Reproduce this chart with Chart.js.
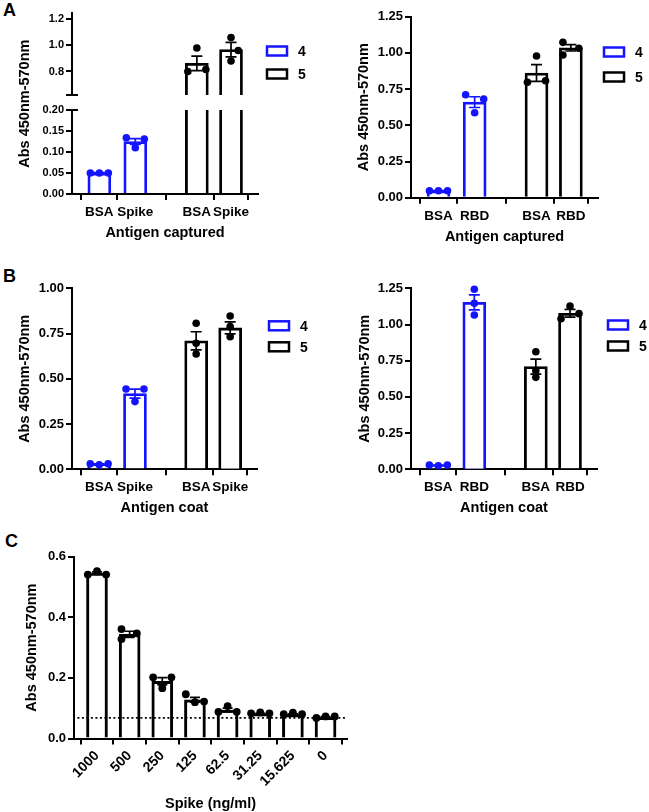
<!DOCTYPE html>
<html>
<head>
<meta charset="utf-8">
<script src="https://cdn.jsdelivr.net/npm/chart.js@4.4.1/dist/chart.umd.min.js"></script>
<style>
  html, body { margin: 0; padding: 0; background: #fff; overflow: hidden; }
  #page { position: relative; width: 649px; height: 812px; overflow: hidden; }
  .panel { position: absolute; }
  .letter { position: absolute; font: bold 18px "Liberation Sans", Arial, sans-serif; line-height: 18px; color: #000; }
</style>
</head>
<body>
<div id="page">
  <div class="letter" style="left:3px;top:1px">A</div>
  <div class="letter" style="left:3px;top:267px">B</div>
  <div class="letter" style="left:5px;top:532px">C</div>
  <div class="panel"><canvas id="capSpikeTop"></canvas></div>
  <div class="panel"><canvas id="capSpikeBottom"></canvas></div>
  <div class="panel"><canvas id="capRbd"></canvas></div>
  <div class="panel"><canvas id="coatSpike"></canvas></div>
  <div class="panel"><canvas id="coatRbd"></canvas></div>
  <div class="panel"><canvas id="titration"></canvas></div>
</div>
<script>
// ---- data ----
const groupNames = ['4', '5'];

// A left: antigen captured, Spike
const capSpikeLabels = ['BSA', 'Spike', 'BSA', 'Spike'];
const capSpikeMean4 = [0.050, 0.125];
const capSpikeSem4 = [0.001, 0.007];
const capSpikeReps4 = [[0.050, 0.050, 0.050], [0.134, 0.110, 0.131]];
const capSpikeMean5 = [0.862, 0.967];
const capSpikeSem5 = [0.055, 0.055];
const capSpikeReps5 = [[0.800, 0.980, 0.815], [1.060, 0.960, 0.880]];

// A right: antigen captured, RBD
const capRbdLabels = ['BSA', 'RBD', 'BSA', 'RBD'];
const capRbdMean4 = [0.048, 0.660];
const capRbdSem4 = [0.001, 0.037];
const capRbdReps4 = [[0.048, 0.048, 0.048], [0.711, 0.587, 0.682]];
const capRbdMean5 = [0.861, 1.035];
const capRbdSem5 = [0.058, 0.022];
const capRbdReps5 = [[0.797, 0.979, 0.808], [1.073, 0.985, 1.032]];

// B left: antigen coat, Spike
const coatSpikeLabels = ['BSA', 'Spike', 'BSA', 'Spike'];
const coatSpikeMean4 = [0.028, 0.418];
const coatSpikeSem4 = [0.002, 0.025];
const coatSpikeReps4 = [[0.030, 0.025, 0.030], [0.444, 0.374, 0.444]];
const coatSpikeMean5 = [0.710, 0.781];
const coatSpikeSem5 = [0.050, 0.033];
const coatSpikeReps5 = [[0.807, 0.696, 0.637], [0.847, 0.788, 0.733]];

// B right: antigen coat, RBD
const coatRbdLabels = ['BSA', 'RBD', 'BSA', 'RBD'];
const coatRbdMean4 = [0.027, 1.153];
const coatRbdSem4 = [0.002, 0.052];
const coatRbdReps4 = [[0.030, 0.025, 0.030], [1.243, 1.146, 1.066]];
const coatRbdMean5 = [0.709, 1.078];
const coatRbdSem5 = [0.052, 0.027];
const coatRbdReps5 = [[0.812, 0.680, 0.635], [1.128, 1.040, 1.075]];

// C: Spike titration
const titrLabels = ['1000', '500', '250', '125', '62.5', '31.25', '15.625', '0'];
const titrMean = [0.546, 0.344, 0.189, 0.128, 0.094, 0.082, 0.079, 0.070];
const titrSem = [0.004, 0.010, 0.012, 0.008, 0.006, 0.001, 0.002, 0.002];
const titrReps = [[0.541, 0.552, 0.541], [0.361, 0.328, 0.347], [0.202, 0.166, 0.202], [0.146, 0.120, 0.122],
                  [0.088, 0.107, 0.088], [0.083, 0.086, 0.083], [0.080, 0.085, 0.080], [0.068, 0.073, 0.073]];
const titrCutoff = 0.068;

// y tick values
const ticksCapTop = [0.8, 1.0, 1.2];
const ticksCapBottom = [0, 0.05, 0.10, 0.15, 0.20];
const ticksTo125 = [0, 0.25, 0.50, 0.75, 1.00, 1.25];
const ticksTo100 = [0, 0.25, 0.50, 0.75, 1.00];
const ticksTitr = [0, 0.2, 0.4, 0.6];

// ---- layout / style ----
const FONT = '"Liberation Sans", Arial, Helvetica, sans-serif';
const BLUE = '#1414ff';
const BLACK = '#000000';
const YTITLE = 'Abs 450nm-570nm';

const slots = [0.76, 1.76, 3.47, 4.42];         // x positions of the four bars
const titrSlots = [0, 1, 2, 3, 4, 5, 6, 7];
const sd = [-0.25, 0, 0.25];                     // dot spread inside a bar
const ct = [0, 0, 0];

Chart.defaults.font.family = FONT;
Chart.defaults.color = '#000';

const errorBars = {
  id: 'errorBars',
  afterDatasetDraw(chart, args, opts) {
    const ds = chart.data.datasets[args.index];
    if (!ds.errors) return;
    const { ctx, chartArea: a } = chart;
    const xs = chart.scales.x, ys = chart.scales.y;
    const c = (opts.cap || 12) / 2;
    ctx.save();
    ctx.beginPath();
    ctx.rect(a.left, a.top - 2, a.right - a.left, a.bottom - a.top + 2);
    ctx.clip();
    ctx.strokeStyle = ds.borderColor;
    ctx.lineWidth = 1.7;
    ds.data.forEach((d, i) => {
      const px = xs.getPixelForValue(d.x);
      const hi = ys.getPixelForValue(d.y + ds.errors[i]);
      const lo = ys.getPixelForValue(d.y - ds.errors[i]);
      ctx.beginPath();
      ctx.moveTo(px, lo); ctx.lineTo(px, hi);
      ctx.moveTo(px - c, hi); ctx.lineTo(px + c, hi);
      ctx.moveTo(px - c, lo); ctx.lineTo(px + c, lo);
      ctx.stroke();
    });
    ctx.restore();
  }
};

const sideLegend = {
  id: 'sideLegend',
  afterDraw(chart, args, opts) {
    if (!opts.show) return;
    const { ctx, chartArea: a } = chart;
    const bars = chart.data.datasets.filter(d => d.type === 'bar');
    ctx.save();
    ctx.font = 'bold 14px ' + FONT;
    ctx.textBaseline = 'middle';
    ctx.textAlign = 'left';
    bars.forEach((d, i) => {
      const cy = a.top + opts.dy + i * opts.gap;
      const bx = a.right + opts.dx;
      ctx.fillStyle = '#fff';
      ctx.fillRect(bx, cy - 4.5, 20, 9);
      ctx.strokeStyle = d.borderColor;
      ctx.lineWidth = 2.5;
      ctx.strokeRect(bx, cy - 4.5, 20, 9);
      ctx.fillStyle = '#000';
      ctx.fillText(d.label, bx + 31, cy + 1);
    });
    ctx.restore();
  }
};

// little cross-tick where the y axis is broken
const axisBreak = {
  id: 'axisBreak',
  afterDraw(chart, args, opts) {
    if (!opts.at) return;
    const { ctx, chartArea: a } = chart;
    const yy = opts.at === 'bottom' ? a.bottom : a.top;
    ctx.save();
    ctx.strokeStyle = '#000';
    ctx.lineWidth = 2;
    ctx.beginPath();
    ctx.moveTo(a.left - 6, yy); ctx.lineTo(a.left + 6, yy);
    ctx.stroke();
    ctx.restore();
  }
};

// y title spread over both halves of the broken axis
const spanTitle = {
  id: 'spanTitle',
  afterDraw(chart, args, opts) {
    if (!opts.text) return;
    const { ctx, chartArea: a } = chart;
    const upper = Chart.getChart(opts.upper);
    const top = upper ? upper.chartArea.top : a.top;
    ctx.save();
    ctx.translate(a.left - opts.offset, (top + a.bottom) / 2);
    ctx.rotate(-Math.PI / 2);
    ctx.font = 'bold 14.5px ' + FONT;
    ctx.fillStyle = '#000';
    ctx.textAlign = 'center';
    ctx.textBaseline = 'middle';
    ctx.fillText(opts.text, 0, 0);
    ctx.restore();
  }
};

function axisLine() {
  return {
    grid: { display: true, drawOnChartArea: false, drawTicks: true, tickLength: 6, color: '#000', lineWidth: 2 },
    border: { display: true, color: '#000', width: 2 }
  };
}

function makeChart(id, p) {
  const box = p.box;
  const holder = document.getElementById(id).parentNode;
  holder.style.left = box[0] + 'px';
  holder.style.top = box[1] + 'px';
  holder.style.width = box[2] + 'px';
  holder.style.height = box[3] + 'px';

  const datasets = [];
  p.series.forEach(s => {
    datasets.push({
      type: 'bar', label: s.name, order: 2,
      data: s.mean.map((v, i) => ({ x: p.slots[s.at + i], y: v })),
      errors: s.sem,
      backgroundColor: '#fff', borderColor: s.color, borderWidth: p.barBorder,
      borderSkipped: 'start', barThickness: p.barWidth, grouped: false, clip: 0
    });
    const pts = [];
    s.reps.forEach((r, i) => r.forEach((v, k) => pts.push({ x: p.slots[s.at + i] + s.jitter[i][k], y: v })));
    datasets.push({
      type: 'scatter', label: s.name + ' replicates', order: 1, data: pts,
      pointRadius: p.dot, pointHoverRadius: p.dot, backgroundColor: s.color, borderWidth: 0, clip: 6
    });
  });
  if (p.cutoff !== undefined) {
    datasets.push({
      type: 'line', label: 'background', order: 0,
      data: [{ x: p.cutoffFrom, y: p.cutoff }, { x: p.cutoffTo, y: p.cutoff }],
      borderColor: '#000', borderWidth: 1.6, borderDash: [2, 2.5], pointRadius: 0, fill: false
    });
  }

  const [L, T, R, B] = p.area;
  const xH = p.showX ? p.xH : 0;
  const padding = {
    left: L - p.yW - box[0],
    top: T - box[1],
    right: box[0] + box[2] - R,
    bottom: box[1] + box[3] - B - xH
  };

  return new Chart(document.getElementById(id), {
    type: 'bar',
    data: { datasets },
    options: {
      responsive: true,
      maintainAspectRatio: false,
      devicePixelRatio: 1,
      animation: false,
      events: [],
      layout: { padding },
      scales: {
        x: Object.assign(axisLine(), {
          type: 'linear', min: p.xMin, max: p.xMax, offset: false, display: p.showX,
          afterBuildTicks: s => { s.ticks = p.slots.map(v => ({ value: v })); },
          afterFit: s => { s.height = p.xH; },
          ticks: {
            autoSkip: false, maxRotation: p.rot, minRotation: p.rot, padding: p.xPad,
            callback: (v, i) => p.labels[i],
            font: { size: p.xFont, weight: 'bold' }, color: '#000'
          },
          title: { display: true, text: p.xTitle, font: { size: 14.5, weight: 'bold' }, color: '#000', padding: 0 }
        }),
        y: Object.assign(axisLine(), {
          type: 'linear', min: p.yMin, max: p.yMax,
          afterBuildTicks: s => { s.ticks = p.yTicks.map(v => ({ value: v })); },
          afterFit: s => { s.width = p.yW; },
          ticks: {
            padding: 2, callback: v => v.toFixed(p.decimals),
            font: { size: p.yFont, weight: 'bold' }, color: '#000'
          },
          title: { display: !!p.yTitle, text: p.yTitle, font: { size: 14.5, weight: 'bold' }, color: '#000', padding: 0 }
        })
      },
      plugins: {
        legend: { display: false },
        tooltip: { enabled: false },
        errorBars: { cap: p.cap },
        sideLegend: p.legend || { show: false },
        axisBreak: { at: p.breakAt },
        spanTitle: p.spanTitle || {}
      }
    },
    plugins: [errorBars, sideLegend, axisBreak, spanTitle]
  });
}

function pairSeries(m4, e4, r4, j4, m5, e5, r5, j5) {
  return [
    { name: groupNames[0], color: BLUE, at: 0, mean: m4, sem: e4, reps: r4, jitter: j4 },
    { name: groupNames[1], color: BLACK, at: 2, mean: m5, sem: e5, reps: r5, jitter: j5 }
  ];
}

const common = { slots, xMin: 0, xMax: 5.17, rot: 0, xPad: 4, xFont: 13.5, barWidth: 23, barBorder: 2.8, dot: 3.8, cap: 11, yFont: 13 };

// A left, upper part of the broken axis
makeChart('capSpikeTop', Object.assign({}, common, {
  box: [0, 0, 330, 270], area: [72, 13.3, 258, 95], yW: 40, showX: false, xH: 0,
  labels: capSpikeLabels, xTitle: '', yMin: 0.62, yMax: 1.245, yTicks: ticksCapTop, decimals: 1, yFont: 11,
  series: pairSeries(capSpikeMean4, capSpikeSem4, capSpikeReps4, [sd, sd], capSpikeMean5, capSpikeSem5, capSpikeReps5, [sd, [0, 0.2, 0]]),
  legend: { show: true, dx: 9, dy: 37.7, gap: 23 }, breakAt: 'bottom'
}));

// A left, lower part
makeChart('capSpikeBottom', Object.assign({}, common, {
  box: [0, 0, 330, 270], area: [72, 110, 258, 194], yW: 40, showX: true, xH: 47.7,
  labels: capSpikeLabels, xTitle: 'Antigen captured', yMin: 0, yMax: 0.2, yTicks: ticksCapBottom, decimals: 2, yFont: 11,
  series: pairSeries(capSpikeMean4, capSpikeSem4, capSpikeReps4, [sd, sd], capSpikeMean5, capSpikeSem5, capSpikeReps5, [sd, [0, 0.2, 0]]),
  breakAt: 'top', spanTitle: { text: YTITLE, upper: 'capSpikeTop', offset: 47 }
}));

// A right
makeChart('capRbd', Object.assign({}, common, {
  box: [320, 0, 329, 270], area: [411, 16.7, 598, 197.7], yW: 55.7, showX: true, xH: 48.3,
  labels: capRbdLabels, xTitle: 'Antigen captured', yTitle: YTITLE, yMin: 0, yMax: 1.25, yTicks: ticksTo125, decimals: 2,
  series: pairSeries(capRbdMean4, capRbdSem4, capRbdReps4, [sd, sd], capRbdMean5, capRbdSem5, capRbdReps5, [sd, [-0.22, -0.22, 0.22]]),
  legend: { show: true, dx: 6, dy: 35.3, gap: 25 }
}));

// B left
makeChart('coatSpike', Object.assign({}, common, {
  box: [0, 270, 330, 270], area: [72, 288.3, 257, 469.3], yW: 56.2, showX: true, xH: 47.7,
  labels: coatSpikeLabels, xTitle: 'Antigen coat', yTitle: YTITLE, yMin: 0, yMax: 1.0, yTicks: ticksTo100, decimals: 2,
  series: pairSeries(coatSpikeMean4, coatSpikeSem4, coatSpikeReps4, [sd, sd], coatSpikeMean5, coatSpikeSem5, coatSpikeReps5, [ct, ct]),
  legend: { show: true, dx: 12, dy: 37.5, gap: 21 }
}));

// B right
makeChart('coatRbd', Object.assign({}, common, {
  box: [320, 270, 340, 270], area: [411, 288.3, 597, 469.3], yW: 55.2, showX: true, xH: 47.7,
  labels: coatRbdLabels, xTitle: 'Antigen coat', yTitle: YTITLE, yMin: 0, yMax: 1.25, yTicks: ticksTo125, decimals: 2,
  series: pairSeries(coatRbdMean4, coatRbdSem4, coatRbdReps4, [sd, ct], coatRbdMean5, coatRbdSem5, coatRbdReps5, [ct, [0, -0.25, 0.25]]),
  legend: { show: true, dx: 11, dy: 36.7, gap: 21 }
}));

// C
const ts = [-0.28, 0, 0.28];
makeChart('titration', {
  box: [0, 530, 400, 284], area: [74, 556.7, 347, 738.5], yW: 50.7, showX: true, xH: 74,
  slots: titrSlots, xMin: -0.704, xMax: 7.657, rot: 45, xPad: 3, xFont: 14, barWidth: 21, barBorder: 3, dot: 3.9, cap: 10, yFont: 13,
  labels: titrLabels, xTitle: 'Spike (ng/ml)', yTitle: YTITLE, yMin: 0, yMax: 0.6, yTicks: ticksTitr, decimals: 1,
  series: [{ name: groupNames[1], color: BLACK, at: 0, mean: titrMean, sem: titrSem, reps: titrReps,
             jitter: [ts, [-0.25, -0.25, 0.22], ts, ts, ts, ts, ts, ts] }],
  cutoff: titrCutoff, cutoffFrom: -0.6, cutoffTo: 7.6
});
</script>
</body>
</html>
